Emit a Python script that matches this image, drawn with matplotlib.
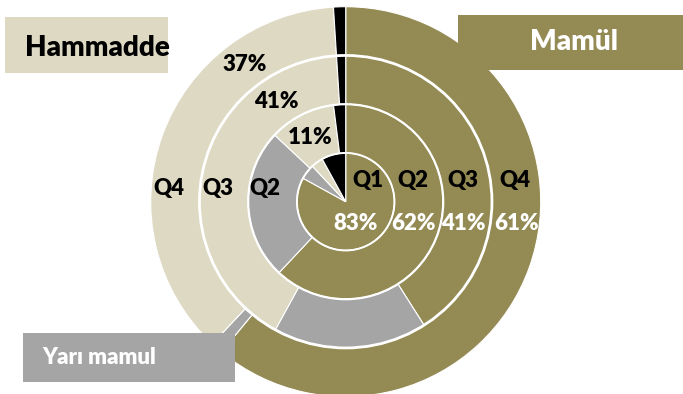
import numpy as np
import matplotlib.pyplot as plt
from matplotlib.patches import Rectangle, Circle

quarters = ['Q1', 'Q2', 'Q3', 'Q4']
mamul = [83, 62, 41, 61]
yari_mamul = [5, 25, 17, 1]
hammadde = [4, 11, 41, 37]
diger = [8, 2, 1, 1]

olive = '#948A54'
grey = '#A5A5A5'
beige = '#DDD9C3'
colors = [olive, grey, beige, '#000000']

W, H = 683, 394
cx, cy = 345.7, 201.7   # pie centre, pixels from the top-left corner
R = 195.0
ring_w = R / 4

plt.rcParams['font.family'] = ['Lato', 'DejaVu Sans']
plt.rcParams['font.weight'] = 'heavy'

fig = plt.figure(figsize=(W / 100, H / 100), dpi=100)
ax = fig.add_axes([0, 0, 1, 1])

# one ring per quarter, Q1 in the middle
for i in range(len(quarters)):
    vals = [mamul[i], yari_mamul[i], hammadde[i], diger[i]]
    ax.pie(vals, radius=ring_w * (i + 1), colors=colors, startangle=90,
           counterclock=False,
           wedgeprops=dict(width=ring_w, edgecolor='white', linewidth=0.8))

for i, lw in zip(range(1, 4), [1.4, 1.6, 2.0]):
    ax.add_patch(Circle((0, 0), ring_w * i, fill=False, ec='white', lw=lw, zorder=3))


def px(x, y):
    return x - cx, cy - y


def polar(r, ang):
    a = np.radians(ang)
    return r * np.sin(a), r * np.cos(a)


# quarter names and Mamül shares on the right
q_x = [22, 67, 117, 169]
p_x = [10, 68, 118, 171]
for i, q in enumerate(quarters):
    ax.text(q_x[i], 21, q, ha='center', va='center', fontsize=16, color='black')
    ax.text(p_x[i], -22, f'{mamul[i]}%', ha='center', va='center', fontsize=16,
            color='white')

# quarter names on the left
for i, xl in zip([1, 2, 3], [-81, -128, -177]):
    ax.text(xl, 13, quarters[i], ha='center', va='center', fontsize=16, color='black')

# Hammadde shares
for i, ang in zip([1, 2, 3], [330.7, 325.5, 323.5]):
    r_mid = ring_w * (i + 0.5)
    ax.text(*polar(r_mid, ang), f'{hammadde[i]}%', ha='center', va='center',
            fontsize=16, color='black')

# legend boxes
ax.add_patch(Rectangle(px(5, 73), 163, 56, fc=beige, ec='none', zorder=5))
ax.text(*px(97.5, 48), 'Hammadde', ha='center', va='center', fontsize=20,
        color='black', zorder=6)

ax.add_patch(Rectangle(px(458, 70), 240, 55, fc=olive, ec='none', zorder=5))
ax.text(*px(573.7, 42), 'Mamül', ha='center', va='center', fontsize=20,
        color='white', zorder=6)

ax.add_patch(Rectangle(px(23, 382), 212, 49, fc=grey, ec='none', zorder=5))
ax.text(*px(99.5, 358), 'Yarı mamul', ha='center', va='center', fontsize=16,
        color='white', zorder=6)

ax.set_aspect('equal')
ax.set_xlim(-cx, W - cx)
ax.set_ylim(cy - H, cy)
ax.axis('off')

fig.savefig('out.png', dpi=100)
